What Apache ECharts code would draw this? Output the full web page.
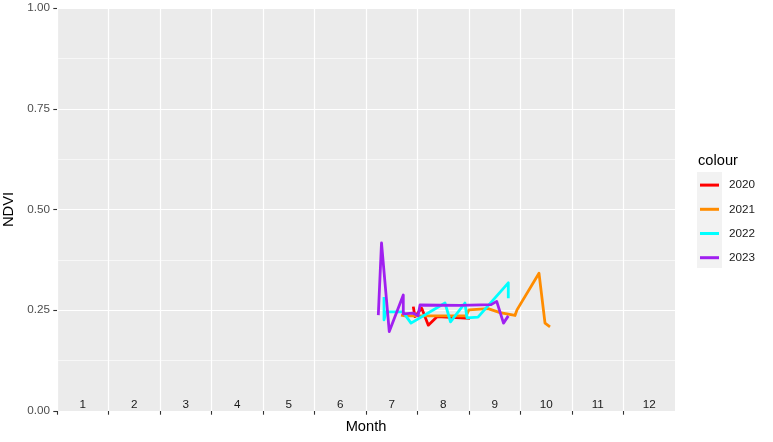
<!DOCTYPE html>
<html>
<head>
<meta charset="utf-8">
<script src="https://cdn.jsdelivr.net/npm/echarts@6/dist/echarts.min.js"></script>
<style>
html,body{margin:0;padding:0;background:#fff;}
#chart{width:773px;height:442px;}
</style>
</head>
<body>
<div id="chart"></div>
<script>
// ---- data (month as fraction of year: 6.0 = start of month 7) ----
var monthLabels = ['1','2','3','4','5','6','7','8','9','10','11','12'];
var yTicks = [0, 0.25, 0.5, 0.75, 1];
var years = ['2020','2021','2022','2023'];
var colours = ['#FF0000','#FF8C00','#00FFFF','#A020F0'];

var month2020 = [6.918, 6.951, 7.082, 7.210, 7.379, 8.019];
var ndvi2020  = [0.259, 0.234, 0.255, 0.213, 0.234, 0.230];

var month2021 = [6.680, 6.757, 7.942, 8.000, 8.369, 8.602, 8.893, 8.932, 9.359, 9.476, 9.573];
var ndvi2021  = [0.238, 0.236, 0.236, 0.251, 0.254, 0.244, 0.237, 0.251, 0.342, 0.218, 0.209];

var month2022 = [6.350, 6.350, 6.388, 6.718, 6.874, 7.534, 7.641, 7.922, 7.961, 8.175, 8.763, 8.763];
var ndvi2022  = [0.283, 0.226, 0.246, 0.246, 0.218, 0.268, 0.221, 0.268, 0.231, 0.233, 0.318, 0.280];

var month2023 = [6.239, 6.301, 6.452, 6.724, 6.724, 6.913, 7.010, 7.049, 7.825, 8.430, 8.538, 8.670, 8.763];
var ndvi2023  = [0.238, 0.417, 0.197, 0.288, 0.241, 0.243, 0.236, 0.263, 0.262, 0.264, 0.272, 0.218, 0.236];

var monthsByYear = [month2020, month2021, month2022, month2023];
var ndviByYear = [ndvi2020, ndvi2021, ndvi2022, ndvi2023];

function pairs(xs, ys){ return xs.map(function(x,i){ return [x, ys[i]]; }); }

var FONT = '"Liberation Sans", Arial, sans-serif';

var series = years.map(function(y, i){
  return {
    name: y,
    type: 'line',
    xAxisIndex: 0,
    yAxisIndex: 0,
    data: pairs(monthsByYear[i], ndviByYear[i]),
    showSymbol: false,
    symbol: 'none',
    smooth: false,
    animation: false,
    color: colours[i],
    lineStyle: { color: colours[i], width: 2.8, join: 'round' },
    z: 3 + i
  };
});

var chart = echarts.init(document.getElementById('chart'), null, {renderer: 'canvas'});
chart.setOption({
  animation: false,
  backgroundColor: '#ffffff',
  grid: {
    left: 57, right: 98, top: 8, bottom: 31,
    containLabel: false, outerBoundsMode: 'none',
    show: true, backgroundColor: '#EBEBEB', borderWidth: 0
  },
  xAxis: [
    {
      type: 'value', min: 0, max: 12, interval: 1,
      name: 'Month', nameLocation: 'middle', nameGap: 8,
      nameTextStyle: { fontFamily: FONT, fontSize: 14.67, color: '#000', verticalAlign: 'top' },
      axisLine: { show: false },
      axisTick: { show: true, length: 3.7, lineStyle: { color: '#333333', width: 1.1 },
                  customValues: [0,1,2,3,4,5,6,7,8,9,10,11] },
      axisLabel: { show: false },
      splitLine: { show: true, lineStyle: { color: '#ffffff', width: 1.2 } }
    },
    {
      type: 'category', data: monthLabels, position: 'bottom', boundaryGap: true,
      axisLine: { show: false }, axisTick: { show: false }, splitLine: { show: false },
      axisLabel: { inside: true, margin: 0, interval: 0, fontFamily: FONT, fontSize: 11.7, color: '#1a1a1a' }
    }
  ],
  yAxis: {
    type: 'value', min: 0, max: 1, interval: 0.25,
    name: 'NDVI', nameLocation: 'middle', nameGap: 32,
    nameTextStyle: { fontFamily: FONT, fontSize: 14.67, color: '#000' },
    axisLine: { show: false },
    axisTick: { show: true, length: 3.7, lineStyle: { color: '#333333', width: 1.1 } },
    axisLabel: { margin: 7, fontFamily: FONT, fontSize: 11.7, color: '#4D4D4D',
                 formatter: function(v){ return v.toFixed(2); } },
    splitLine: { show: true, lineStyle: { color: '#ffffff', width: 1.2 } },
    minorTick: { show: false, splitNumber: 2 },
    minorSplitLine: { show: true, lineStyle: { color: '#ffffff', width: 0.6 } }
  },
  legend: {
    data: years,
    orient: 'vertical',
    left: 700, top: 173,
    padding: 0,
    itemGap: 0,
    itemWidth: 19,
    itemHeight: 3,
    icon: 'rect',
    selectedMode: false,
    textStyle: { fontFamily: FONT, fontSize: 11.7, color: '#1a1a1a', lineHeight: 24.2, padding: [0,0,0,5] }
  },
  graphic: [
    { type: 'rect', left: 697, top: 172, z: 0, silent: true,
      shape: { width: 25, height: 96 }, style: { fill: '#F2F2F2' } },
    { type: 'text', left: 698, top: 153, z: 1, silent: true,
      style: { text: 'colour', font: '14.67px "Liberation Sans", Arial, sans-serif', fill: '#000' } }
  ],
  series: series
});
</script>
</body>
</html>
